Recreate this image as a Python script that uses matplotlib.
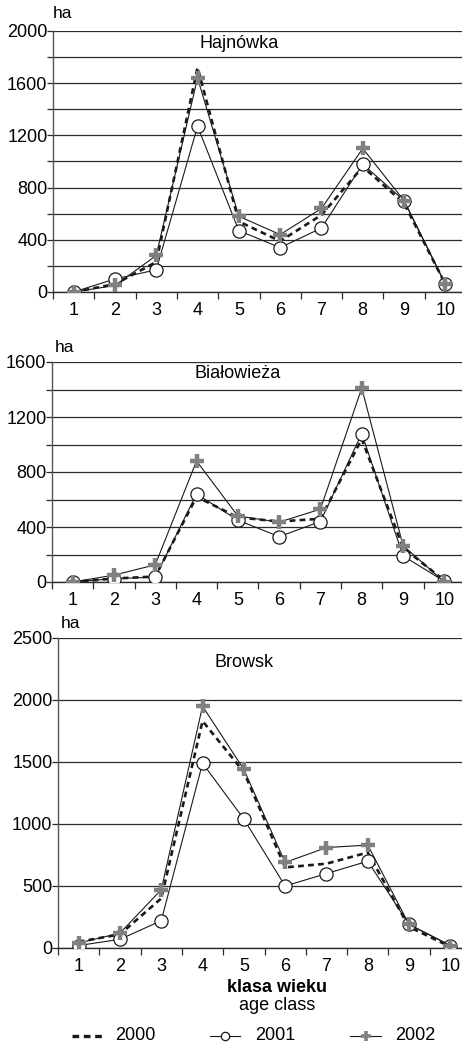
import matplotlib
matplotlib.use("Agg")
import matplotlib.pyplot as plt
from matplotlib.lines import Line2D
from matplotlib.ticker import MultipleLocator, FixedLocator

plt.rcParams['font.family'] = ['Liberation Sans', 'DejaVu Sans']

classes = [1, 2, 3, 4, 5, 6, 7, 8, 9, 10]

haj_2000 = [0, 60, 230, 1720, 540, 390, 590, 960, 680, 60]
haj_2001 = [0, 100, 170, 1270, 470, 340, 490, 980, 700, 60]
haj_2002 = [0, 50, 280, 1640, 580, 440, 640, 1100, 700, 60]

bia_2000 = [0, 25, 40, 620, 470, 440, 460, 1040, 250, 10]
bia_2001 = [0, 25, 35, 640, 450, 330, 440, 1080, 190, 5]
bia_2002 = [0, 50, 125, 880, 480, 435, 530, 1410, 265, 0]

bro_2000 = [50, 110, 400, 1830, 1420, 650, 680, 770, 170, 10]
bro_2001 = [20, 70, 220, 1490, 1040, 500, 600, 700, 190, 20]
bro_2002 = [40, 120, 470, 1950, 1440, 690, 810, 830, 190, 20]

titles = ["Hajnówka", "Białowieża", "Browsk"]
year_labels = ["2000", "2001", "2002"]

W, H = 462, 1048
fig = plt.figure(figsize=(W / 100, H / 100), dpi=100)

def axes_px(left, top, bottom, right=W):
    return fig.add_axes([left / W, 1 - bottom / H, (right - left) / W, (bottom - top) / H])

def fx(x):
    return x / W

def fy(y):
    return 1 - y / H

panels = [
    dict(left=53, top=31, bottom=292, ymax=2000, grid=200, lab=400,
         data=(haj_2000, haj_2001, haj_2002), title_y=1908, ha_x=63, ha_y=13),
    dict(left=52, top=362, bottom=582, ymax=1600, grid=200, lab=400,
         data=(bia_2000, bia_2001, bia_2002), title_y=1520, ha_x=65, ha_y=348),
    dict(left=58, top=638, bottom=948, ymax=2500, grid=500, lab=500,
         data=(bro_2000, bro_2001, bro_2002), title_y=2306, ha_x=70, ha_y=623),
]

spacing = 41.3
for i, p in enumerate(panels):
    ax = axes_px(p['left'], p['top'], p['bottom'])
    d0, d1, d2 = p['data']
    ax.plot(classes, d0, color='#1a1a1a', lw=1.9, ls=(0, (2.2, 1.6)), zorder=3)
    ax.plot(classes, d1, color='#1a1a1a', lw=0.8, marker='o', ms=9.5,
            mfc='white', mec='#1a1a1a', mew=0.9, zorder=4)
    ax.plot(classes, d2, color='#1a1a1a', lw=0.8, marker='+', ms=9.5,
            mec='#808080', mew=3.2, zorder=5)
    ax.set_ylim(0, p['ymax'])
    ax.set_xlim(0.5, 0.5 + (W - p['left']) / spacing)
    ax.yaxis.set_major_locator(MultipleLocator(p['grid']))
    ticks = ax.get_yticks()
    ax.set_yticks(ticks)
    ax.set_yticklabels([str(int(v)) if v % p['lab'] == 0 else '' for v in ticks])
    ax.set_ylim(0, p['ymax'])
    ax.yaxis.grid(True, color='#2a2a2a', lw=0.9)
    ax.set_axisbelow(True)
    ax.set_xticks(classes)
    ax.set_xticklabels([str(c) for c in classes])
    ax.xaxis.set_minor_locator(FixedLocator([c + 0.5 for c in range(0, 11)]))
    ax.tick_params(axis='x', which='major', length=0, labelsize=13, pad=7)
    ax.tick_params(axis='x', which='minor', length=5, width=0.9, color='#2a2a2a')
    ax.tick_params(axis='y', length=4, width=0.9, color='#2a2a2a', labelsize=13, pad=0)
    for s in ['top', 'right']:
        ax.spines[s].set_visible(False)
    ax.spines['left'].set_color('#555555')
    ax.spines['bottom'].set_color('#2a2a2a')
    ax.spines['left'].set_linewidth(1.0)
    ax.spines['bottom'].set_linewidth(1.0)
    ax.text(5.0, p['title_y'], titles[i], ha='center', va='center', fontsize=13)
    fig.text(fx(p['ha_x']), fy(p['ha_y']), 'ha', ha='center', va='center', fontsize=12.5)

fig.text(fx(277), fy(987), 'klasa wieku', ha='center', va='center',
         fontsize=13, fontweight='bold')
fig.text(fx(277), fy(1005), 'age class', ha='center', va='center', fontsize=13)

# legend drawn manually
ly = 1036
# 2000
fig.add_artist(Line2D([fx(72), fx(105)], [fy(ly), fy(ly)], color='#1a1a1a', lw=2.4,
                      ls=(0, (2.0, 1.4)), transform=fig.transFigure))
fig.text(fx(115), fy(ly), year_labels[0], ha='left', va='center', fontsize=13)
# 2001
fig.add_artist(Line2D([fx(210), fx(240)], [fy(ly), fy(ly)], color='#1a1a1a', lw=0.8,
                      transform=fig.transFigure))
fig.add_artist(Line2D([fx(225)], [fy(ly)], marker='o', ms=6, mfc='white', mec='#1a1a1a',
                      mew=0.9, ls='none', transform=fig.transFigure))
fig.text(fx(255), fy(ly), year_labels[1], ha='left', va='center', fontsize=13)
# 2002
fig.add_artist(Line2D([fx(350), fx(381)], [fy(ly), fy(ly)], color='#1a1a1a', lw=0.8,
                      transform=fig.transFigure))
fig.add_artist(Line2D([fx(365.5)], [fy(ly)], marker='+', ms=6.5, mec='#808080',
                      mew=2.6, ls='none', transform=fig.transFigure))
fig.text(fx(395), fy(ly), year_labels[2], ha='left', va='center', fontsize=13)

fig.savefig('out.png', dpi=100)
